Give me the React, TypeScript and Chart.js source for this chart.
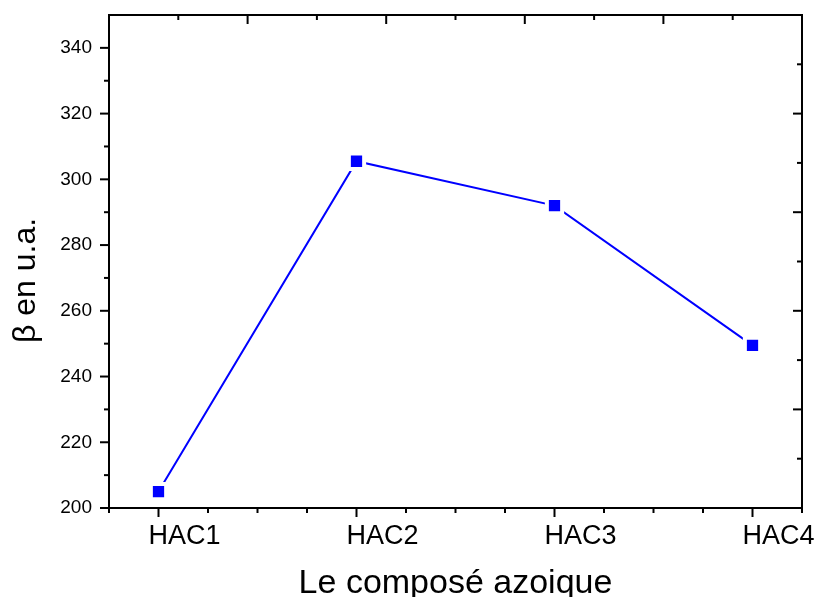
import React, { useEffect, useRef } from 'react';
import { Chart, registerables } from 'chart.js';

Chart.register(...registerables);

// ---- data ----
const categories = ['HAC1', 'HAC2', 'HAC3', 'HAC4'];
const categoryPositions = [1, 2, 3, 4];
const betaValues = [205, 305.5, 292, 249.5];

// ---- tick values ----
const yMajorTicks = [200, 220, 240, 260, 280, 300, 320, 340];
const yMinorTicks = [210, 230, 250, 270, 290, 310, 330];
const xMinorTicks = [0.75, 1.25, 1.5, 1.75, 2.25, 2.5, 2.75, 3.25, 3.5, 3.75, 4.25];
const topMajorTicks = [1.45, 2.15, 2.85, 3.55];
const topMinorTicks = [1.1, 1.8, 2.5, 3.2, 3.9];
const rightMajorTicks = [230, 260, 290, 320];
const rightMinorTicks = [215, 245, 275, 305, 335];

const yTitle = 'β en u.a.';
const xTitle = 'Le composé azoique';

const FONT = "'Liberation Sans', Arial, sans-serif";

const framePlugin = {
  id: 'originFrame',
  afterDraw(chart: any) {
    const { ctx, chartArea, scales } = chart;
    const { left, right, top, bottom } = chartArea;
    const xs = scales.x;
    const ys = scales.y;
    ctx.save();
    ctx.strokeStyle = '#000';
    ctx.lineWidth = 2;
    ctx.lineCap = 'butt';
    ctx.beginPath();
    ctx.rect(left, top, right - left, bottom - top);
    ctx.stroke();

    const line = (x1: number, y1: number, x2: number, y2: number) => {
      ctx.beginPath();
      ctx.moveTo(x1, y1);
      ctx.lineTo(x2, y2);
      ctx.stroke();
    };
    // left axis (outward)
    yMajorTicks.forEach((v) => {
      const p = ys.getPixelForValue(v);
      line(left - 9, p, left, p);
    });
    yMinorTicks.forEach((v) => {
      const p = ys.getPixelForValue(v);
      line(left - 5, p, left, p);
    });
    // bottom axis (outward)
    categoryPositions.forEach((v) => {
      const p = xs.getPixelForValue(v);
      line(p, bottom, p, bottom + 9);
    });
    xMinorTicks.forEach((v) => {
      const p = xs.getPixelForValue(v);
      line(p, bottom, p, bottom + 5);
    });
    // top axis (inward)
    topMajorTicks.forEach((v) => {
      const p = xs.getPixelForValue(v);
      line(p, top, p, top + 9);
    });
    topMinorTicks.forEach((v) => {
      const p = xs.getPixelForValue(v);
      line(p, top, p, top + 5);
    });
    // right axis (inward)
    rightMajorTicks.forEach((v) => {
      const p = ys.getPixelForValue(v);
      line(right - 9, p, right, p);
    });
    rightMinorTicks.forEach((v) => {
      const p = ys.getPixelForValue(v);
      line(right - 5, p, right, p);
    });

    // y axis title
    ctx.fillStyle = '#000';
    ctx.font = `32px ${FONT}`;
    ctx.textAlign = 'center';
    ctx.textBaseline = 'alphabetic';
    ctx.translate(35, (top + bottom) / 2 + 19);
    ctx.rotate(-Math.PI / 2);
    ctx.fillText(yTitle, 0, 0);
    ctx.restore();
  },
};

export default function App() {
  const canvasRef = useRef<HTMLCanvasElement | null>(null);

  useEffect(() => {
    if (!canvasRef.current) return;
    const chart = new Chart(canvasRef.current, {
      type: 'line',
      data: {
        datasets: [
          {
            data: categoryPositions.map((x, i) => ({ x, y: betaValues[i] })),
            borderColor: '#0000FF',
            borderWidth: 2,
            backgroundColor: '#0000FF',
            pointStyle: 'rect',
            pointRadius: 10.8,
            pointBorderWidth: 4,
            pointBorderColor: '#FFFFFF',
            pointBackgroundColor: '#0000FF',
            tension: 0,
          },
        ],
      },
      options: {
        animation: false,
        responsive: false,
        maintainAspectRatio: false,
        layout: { padding: { top: 15, right: 17, left: 0, bottom: 0 } },
        plugins: {
          legend: { display: false },
          tooltip: { enabled: false },
        },
        scales: {
          x: {
            type: 'linear',
            min: 0.75,
            max: 4.25,
            afterBuildTicks: (scale: any) => {
              scale.ticks = categoryPositions.map((v) => ({ value: v }));
            },
            afterFit: (scale: any) => {
              scale.height = 89;
              scale.paddingLeft = 0;
              scale.paddingRight = 0;
            },
            grid: { display: false, drawTicks: false },
            border: { display: false },
            ticks: {
              autoSkip: false,
              maxRotation: 0,
              padding: 12,
              labelOffset: 26,
              color: '#000',
              font: { family: FONT, size: 27 },
              callback: (v: any) => categories[categoryPositions.indexOf(Number(v))] ?? '',
            },
            title: {
              display: true,
              text: xTitle,
              color: '#000',
              font: { family: FONT, size: 34, lineHeight: 0.76 },
              padding: { top: 0, bottom: 0 },
            },
          },
          y: {
            type: 'linear',
            min: 200,
            max: 350,
            afterBuildTicks: (scale: any) => {
              scale.ticks = yMajorTicks.map((v) => ({ value: v }));
            },
            afterFit: (scale: any) => {
              scale.width = 109;
              scale.paddingTop = 0;
              scale.paddingBottom = 0;
            },
            grid: { display: false, drawTicks: false },
            border: { display: false },
            ticks: {
              padding: 17,
              color: '#000',
              font: { family: FONT, size: 19 },
            },
            title: { display: false },
          },
        },
      },
      plugins: [framePlugin],
    });
    return () => chart.destroy();
  }, []);

  return (
    <div style={{ position: 'fixed', left: 0, top: 0, width: 819, height: 597, background: '#fff' }}>
      <canvas ref={canvasRef} width={819} height={597} style={{ width: 819, height: 597 }} />
    </div>
  );
}
